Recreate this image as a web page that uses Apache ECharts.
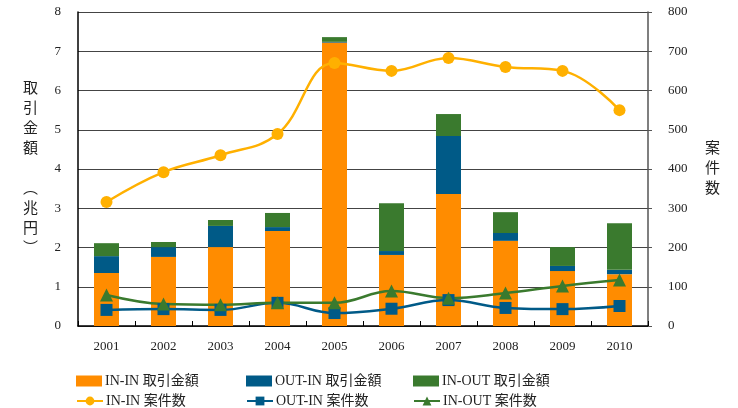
<!DOCTYPE html>
<html>
<head>
<meta charset="utf-8">
<script src="https://cdn.jsdelivr.net/npm/echarts@6/dist/echarts.min.js"></script>
<style>
html, body { margin: 0; padding: 0; background: #fff; }
#chart { width: 738px; height: 408px; }
</style>
</head>
<body>
<div id="chart"></div>
<script>
// data
const years = ['2001', '2002', '2003', '2004', '2005', '2006', '2007', '2008', '2009', '2010']

// 取引金額 (兆円) - stacked bars
const inInAmount  = [1.35, 1.76, 2.01, 2.42, 7.22, 1.81, 3.36, 2.17, 1.40, 1.32]
const outInAmount = [0.43, 0.25, 0.54, 0.10, 0.02, 0.10, 1.48, 0.20, 0.13, 0.11]
const inOutAmount = [0.33, 0.13, 0.15, 0.36, 0.12, 1.22, 0.56, 0.53, 0.48, 1.19]

// 案件数 - lines
const inInCount  = [316, 392, 435, 489, 670, 650, 683, 660, 650, 550]
const outInCount = [41, 43, 41, 59, 33, 44, 66, 46, 43, 51]
const inOutCount = [79, 56, 54, 59, 59, 89, 71, 84, 102, 117]

const leftTicks = [0, 8, 1]
const rightTicks = [0, 800, 100]

const C_ORANGE = '#ff8c00'
const C_BLUE = '#005a87'
const C_GREEN = '#3a7a2e'
const C_AMBER = '#ffb000'

const fontFamily = '"Liberation Serif", "Noto Sans CJK JP", serif'
const textColor = '#222'

const chart = echarts.init(document.getElementById('chart'))

const legendNames = [
  'IN-IN 取引金額', 'OUT-IN 取引金額', 'IN-OUT 取引金額',
  'IN-IN 案件数', 'OUT-IN 案件数', 'IN-OUT 案件数'
]
const legendLeft = [76, 246, 413]
const legendTop = [374, 394]

const legends = legendNames.map((name, i) => ({
  data: i < 3 ? [{ name, icon: 'rect' }] : [name],
  left: legendLeft[i % 3],
  top: legendTop[Math.floor(i / 3)],
  itemWidth: 26,
  itemHeight: 11,
  itemGap: 0,
  padding: 0,
  selectedMode: false,
  textStyle: { color: textColor, fontSize: 14, fontFamily, padding: [0, 0, 0, -2] }
}))

const lineSeries = (name, data, color, symbol, size) => ({
  name,
  type: 'line',
  yAxisIndex: 1,
  data,
  smooth: 0.4,
  symbol,
  symbolSize: size,
  z: 5,
  itemStyle: { color },
  lineStyle: { color, width: 2.5 }
})

chart.setOption({
  animation: false,
  backgroundColor: '#fff',
  textStyle: { fontFamily },
  legend: legends,
  grid: { left: 78, right: 90, top: 12, bottom: 82 },
  xAxis: {
    type: 'category',
    data: years,
    axisLine: { lineStyle: { color: '#000', width: 1.5 } },
    axisTick: { show: true, inside: true, length: 5, lineStyle: { color: '#000' } },
    axisLabel: { color: textColor, fontSize: 13, margin: 14, fontFamily }
  },
  yAxis: [
    {
      type: 'value',
      min: leftTicks[0],
      max: leftTicks[1],
      interval: leftTicks[2],
      name: '取\n引\n金\n額\n\n︵\n兆\n円\n︶',
      nameLocation: 'middle',
      nameRotate: 0,
      nameGap: 40,
      nameTextStyle: { color: textColor, fontSize: 15, lineHeight: 20, fontFamily },
      axisLine: { show: true, lineStyle: { color: '#000', width: 1.5 } },
      axisTick: { show: false },
      axisLabel: { color: textColor, fontSize: 13, margin: 17, fontFamily },
      splitLine: { show: true, lineStyle: { color: '#444', width: 1 } }
    },
    {
      type: 'value',
      min: rightTicks[0],
      max: rightTicks[1],
      interval: rightTicks[2],
      name: '案\n件\n数',
      nameLocation: 'middle',
      nameRotate: 0,
      nameGap: 57,
      nameTextStyle: { color: textColor, fontSize: 15, lineHeight: 20, fontFamily },
      axisLine: { show: true, lineStyle: { color: '#555', width: 1.5 } },
      axisTick: { show: true, length: 4, lineStyle: { color: '#555' } },
      axisLabel: { color: textColor, fontSize: 13, margin: 20, fontFamily },
      splitLine: { show: false }
    }
  ],
  series: [
    { name: legendNames[0], type: 'bar', stack: 'amt', data: inInAmount, barWidth: 25, itemStyle: { color: C_ORANGE } },
    { name: legendNames[1], type: 'bar', stack: 'amt', data: outInAmount, barWidth: 25, itemStyle: { color: C_BLUE } },
    { name: legendNames[2], type: 'bar', stack: 'amt', data: inOutAmount, barWidth: 25, itemStyle: { color: C_GREEN } },
    lineSeries(legendNames[3], inInCount, C_AMBER, 'circle', 12),
    lineSeries(legendNames[4], outInCount, C_BLUE, 'rect', 12),
    lineSeries(legendNames[5], inOutCount, C_GREEN, 'triangle', 13)
  ]
})
</script>
</body>
</html>
